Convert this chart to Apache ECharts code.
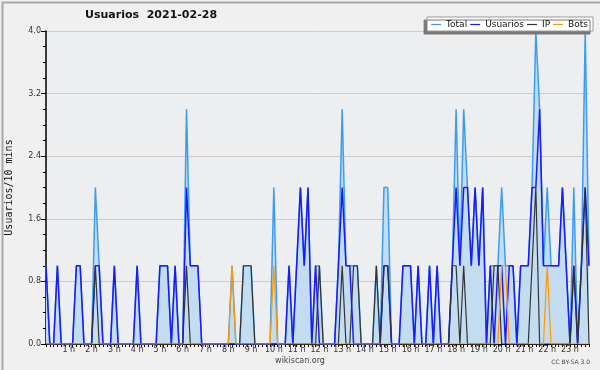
<!DOCTYPE html>
<html>
<head>
<meta charset="utf-8">
<script src="https://cdn.jsdelivr.net/npm/echarts@6/dist/echarts.min.js"></script>
<style>
html,body{margin:0;padding:0;background:#f0f0f0;}
#c{width:600px;height:370px;}
</style>
</head>
<body>
<div id="c"></div>
<script>
// 144 ten-minute slots (one row per hour)
const hourLabels = ['1 h','2 h','3 h','4 h','5 h','6 h','7 h','8 h','9 h','10 h','11 h','12 h','13 h','14 h','15 h','16 h','17 h','18 h','19 h','20 h','21 h','22 h','23 h'];
const yTicks = [0, 0.8, 1.6, 2.4, 3.2, 4.0];

const total = [
1,0,0,1,0,0,
0,0,1,1,0,0,
0,2,1,0,0,0,
1,0,0,0,0,0,
1,0,0,0,0,0,
1,1,1,0,1,0,
0,3,1,1,1,0,
0,0,0,0,0,0,
0,1,0,0,1,1,
1,0,0,0,0,0,
2,0,0,0,1,0,
1,2,1,2,0,1,
1,0,0,0,0,1,
3,1,1,1,1,0,
0,0,0,1,0,2,
2,0,0,0,1,1,
1,0,1,0,0,1,
0,1,0,0,0,1,
3,1,3,2,1,2,
1,2,0,1,1,1,
2,1,1,1,0,1,
1,1,2,4,3,1,
2,1,1,1,2,1,
0,2,0,1,4,1
];
const usuarios = [
1,0,0,1,0,0,
0,0,1,1,0,0,
0,1,1,0,0,0,
1,0,0,0,0,0,
1,0,0,0,0,0,
1,1,1,0,1,0,
0,2,1,1,1,0,
0,0,0,0,0,0,
0,0,0,0,0,0,
0,0,0,0,0,0,
0,0,0,0,1,0,
1,2,1,2,0,1,
0,0,0,0,0,1,
2,1,1,0,0,0,
0,0,0,0,0,1,
1,0,0,0,1,1,
1,0,1,0,0,1,
0,1,0,0,0,1,
2,1,2,2,1,2,
1,2,0,1,0,1,
1,0,1,1,0,1,
1,1,2,2,3,1,
1,1,1,1,2,1,
0,1,0,1,2,1
];
const ip = [
0,0,0,0,0,0,
0,0,0,0,0,0,
0,1,0,0,0,0,
0,0,0,0,0,0,
0,0,0,0,0,0,
0,0,0,0,0,0,
0,1,0,0,0,0,
0,0,0,0,0,0,
0,0,0,0,1,1,
1,0,0,0,0,0,
0,0,0,0,0,0,
0,0,0,0,0,0,
1,0,0,0,0,0,
1,0,0,1,1,0,
0,0,0,1,0,1,
1,0,0,0,0,0,
0,0,0,0,0,0,
0,0,0,0,0,1,
1,0,1,0,0,0,
0,0,0,0,1,1,
0,0,0,0,0,0,
0,0,1,2,0,0,
0,0,0,0,0,0,
0,1,0,1,2,0
];
const bots = [
0,0,0,0,0,0,
0,0,0,0,0,0,
0,0,0,0,0,0,
0,0,0,0,0,0,
0,0,0,0,0,0,
0,0,0,0,0,0,
0,0,0,0,0,0,
0,0,0,0,0,0,
0,1,0,0,0,0,
0,0,0,0,0,0,
1,0,0,0,0,0,
0,0,0,0,0,0,
0,0,0,0,0,0,
0,0,0,0,0,0,
0,0,0,0,0,0,
0,0,0,0,0,0,
0,0,0,0,0,0,
0,0,0,0,0,0,
0,0,0,0,0,0,
0,0,0,0,0,0,
1,1,0,0,0,0,
0,0,0,0,0,0,
1,0,0,0,0,0,
0,0,0,0,0,0
];

const slots = [];
for (let h = 0; h < 24; h++) for (let m = 0; m < 60; m += 10)
  slots.push(String(h).padStart(2,'0') + ':' + String(m).padStart(2,'0'));

const chart = echarts.init(document.getElementById('c'), null, {renderer:'canvas'});
const FONT = 'DejaVu Sans';
const lineSeries = (name, data, color, width, extra) => Object.assign({
  name, type:'line', data, showSymbol:false, symbol:'none',
  lineStyle:{color, width}, itemStyle:{color}, animation:false
}, extra||{});

chart.setOption({
  backgroundColor:'#f0f0f0',
  animation:false,
  title:{
    text:'Usuarios  2021-02-28', left:85, top:10, padding:0,
    textStyle:{fontFamily:FONT, fontSize:11, fontWeight:'bold', color:'#111'}
  },
  legend:{
    right:7, top:17, padding:[3,5,2,4], itemGap:3,
    backgroundColor:'#ffffff', borderColor:'#999', borderWidth:1,
    shadowColor:'#777', shadowOffsetX:-3, shadowOffsetY:3, shadowBlur:0,
    icon:'rect', itemWidth:10, itemHeight:1.2,
    textStyle:{fontFamily:FONT, fontSize:9, color:'#111'},
    data:['Total','Usuarios','IP','Bots']
  },
  grid:{left:46, right:11, top:31, bottom:26, show:true, backgroundColor:'#eceef0', borderWidth:0,
        containLabel:false, outerBoundsMode:'none'},
  xAxis:{
    type:'category', data:slots, boundaryGap:false,
    axisLine:{lineStyle:{color:'#000', width:1}},
    axisTick:{show:true, interval:0, length:3, lineStyle:{color:'#000'}},
    axisLabel:{
      interval:(idx)=> idx%6===0 && idx>0,
      formatter:(v, idx)=> hourLabels[idx/6-1] || '',
      fontFamily:FONT, fontSize:8, color:'#333', margin:2
    },
    splitLine:{show:false}
  },
  yAxis:{
    type:'value', min:yTicks[0], max:yTicks[yTicks.length-1], interval:0.8,
    name:'Usuarios/10 mins', nameLocation:'middle', nameGap:32, nameRotate:90,
    nameTextStyle:{fontFamily:'DejaVu Sans Mono', fontSize:10, color:'#111'},
    axisLine:{show:true, lineStyle:{color:'#000', width:1.5}},
    axisTick:{show:true, length:5, lineStyle:{color:'#000'}},
    minorTick:{show:true, splitNumber:4, length:3, lineStyle:{color:'#000'}},
    axisLabel:{formatter:(v)=>v.toFixed(1), fontFamily:FONT, fontSize:8, color:'#333', margin:5},
    splitLine:{show:true, lineStyle:{color:'#cccccc', width:1}}
  },
  series:[
    lineSeries('Total', total, '#3c9cf0', 1.5, {areaStyle:{color:'#c4dcf0', opacity:1}, z:1}),
    lineSeries('Usuarios', usuarios, '#1a1aff', 1.5, {z:2}),
    lineSeries('IP', ip, '#333333', 1.2, {z:3}),
    lineSeries('Bots', bots, '#ff9900', 1.2, {z:4})
  ],
  graphic:[
    {type:'rect', left:0, top:0, shape:{width:599, height:369}, style:{fill:'none', stroke:'#a8a8a8', lineWidth:2}, silent:true},
    {type:'text', left:'center', top:357, style:{text:'wikiscan.org', font:'8px "DejaVu Sans"', fill:'#444'}},
    {type:'text', right:10, top:359, style:{text:'CC BY-SA 3.0', font:'6px "DejaVu Sans"', fill:'#444'}}
  ]
});
</script>
</body>
</html>
